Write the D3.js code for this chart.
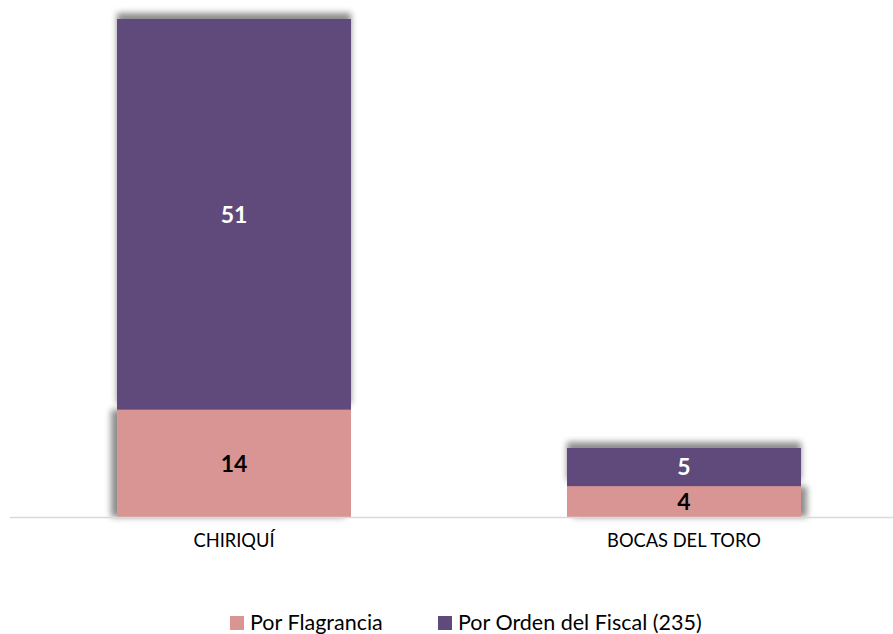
<!DOCTYPE html>
<html><head><meta charset="utf-8">
<script src="https://cdn.jsdelivr.net/npm/d3@7"></script>
<style>body{margin:0;background:#fff}svg{display:block}</style>
</head><body>
<svg id="c" width="893" height="634"></svg>
<script>
const categories = ["CHIRIQUÍ", "BOCAS DEL TORO"];
const flagrancia = [14, 4];
const ordenFiscal = [51, 5];
const seriesNames = ["Por Flagrancia", "Por Orden del Fiscal (235)"];
const colors = ["#d99594", "#604a7b"];
const labelColors = ["#000000", "#ffffff"];

const W = 893, H = 634;
const FONT = "Lato, 'Open Sans', sans-serif";
const svg = d3.select("#c");
const defs = svg.append("defs");
function shadow(id, dx, dy){
  const f = defs.append("filter").attr("id", id).attr("x","-20%").attr("y","-30%").attr("width","140%").attr("height","160%");
  f.append("feDropShadow").attr("dx",dx).attr("dy",dy).attr("stdDeviation",3).attr("flood-color","#000").attr("flood-opacity",0.45);
}
shadow("shUp", 0, -6);
shadow("shLeft", -6, 0);
shadow("shRight", 6, 0);

const x = d3.scaleBand().domain(categories).range([9, 909]).paddingInner(0.48).paddingOuter(0.24);
const y = d3.scaleLinear().domain([0, 65]).range([517, 19]);

const data = categories.map((c, i) => ({cat: c, vals: [flagrancia[i], ordenFiscal[i]]}));
const stack = d3.stack().keys([0, 1]).value((d, k) => d.vals[k])(data);

const g = svg.append("g");
[1, 0].forEach(si => {
  g.append("g").selectAll("rect").data(stack[si]).join("rect")
    .attr("x", d => x(d.data.cat))
    .attr("width", x.bandwidth())
    .attr("y", d => y(d[1]))
    .attr("height", d => y(d[0]) - y(d[1]))
    .attr("fill", colors[si])
    .attr("filter", (d, i) => si === 1 ? "url(#shUp)" : (i === 0 ? "url(#shLeft)" : "url(#shRight)"));
});
[1, 0].forEach(si => {
  g.append("g").selectAll("rect").data(stack[si]).join("rect")
    .attr("x", d => x(d.data.cat))
    .attr("width", x.bandwidth())
    .attr("y", d => y(d[1]))
    .attr("height", d => y(d[0]) - y(d[1]))
    .attr("fill", colors[si]);
});

stack.forEach((layer, si) => {
  g.append("g").selectAll("text").data(layer).join("text")
    .attr("x", d => x(d.data.cat) + x.bandwidth() / 2)
    .attr("y", d => (y(d[0]) + y(d[1])) / 2)
    .attr("dy", "0.36em")
    .attr("text-anchor", "middle")
    .attr("font-family", FONT)
    .attr("font-weight", "bold")
    .attr("font-size", 23)
    .attr("fill", labelColors[si])
    .text(d => d.data.vals[si]);
});

const xAxis = d3.axisBottom(x).tickSize(0).tickPadding(17);
const ax = svg.append("g").attr("transform", `translate(0,${y(0)})`).call(xAxis);
ax.select(".domain").remove();
ax.selectAll("text").attr("font-family", FONT).attr("font-size", 18.3).attr("fill", "#000");
svg.append("line").attr("x1", 10).attr("x2", W).attr("y1", y(0) + 0.5).attr("y2", y(0) + 0.5)
  .attr("stroke", "#d9d9d9").attr("stroke-width", 1.5);

const legendX = [230, 438];
const lg = svg.append("g");
seriesNames.forEach((n, i) => {
  lg.append("rect").attr("x", legendX[i]).attr("y", 616).attr("width", 14).attr("height", 14).attr("fill", colors[i]);
  lg.append("text").attr("x", legendX[i] + 20).attr("y", 622).attr("dy", "0.36em")
    .attr("font-family", FONT).attr("font-size", 21.5).attr("fill", "#000").text(n);
});
</script>
</body></html>
